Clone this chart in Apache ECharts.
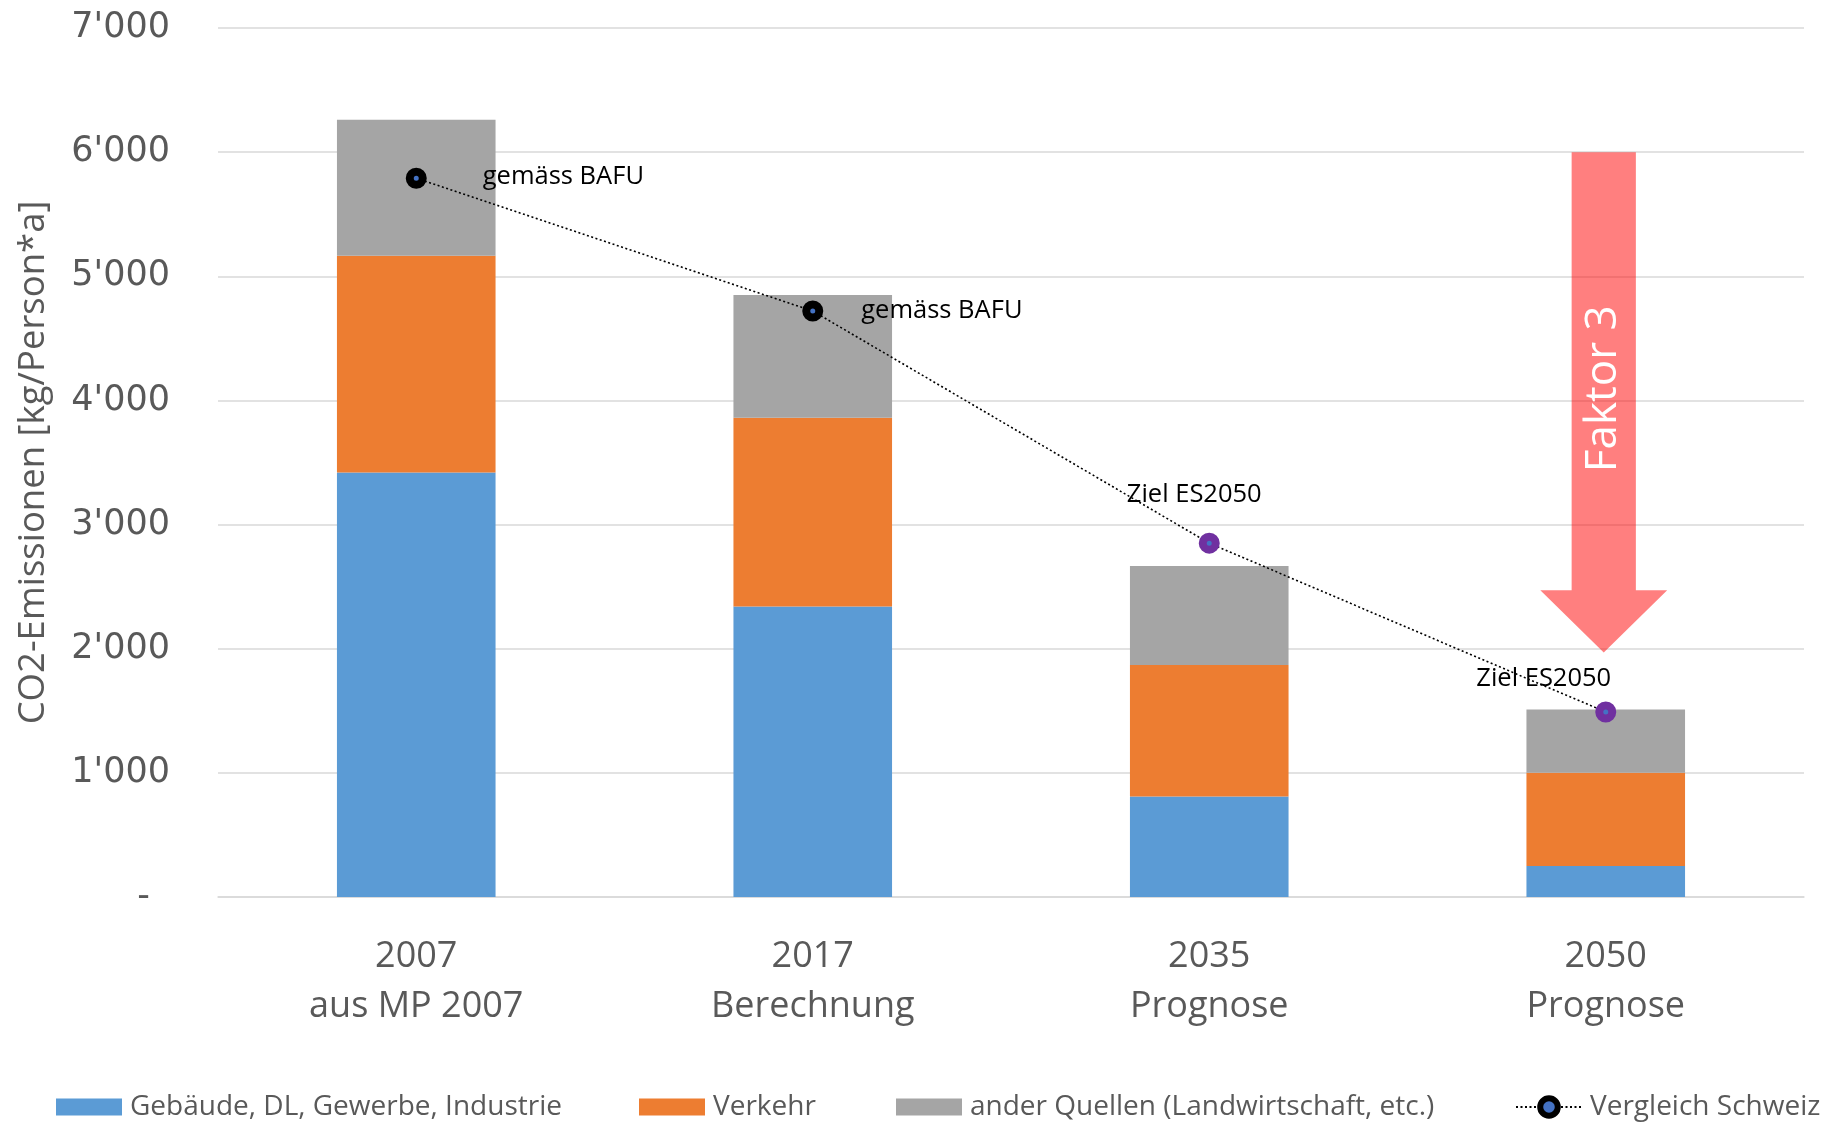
<!DOCTYPE html>
<html>
<head>
<meta charset="utf-8">
<script src="https://cdn.jsdelivr.net/npm/echarts@6/dist/echarts.min.js"></script>
<style>
html,body{margin:0;padding:0;background:#fff;}
#chart{width:1823px;height:1123px;}
</style>
</head>
<body>
<div id="chart"></div>
<script>
// ---- data ----
const years = ['2007', '2017', '2035', '2050'];
const subtitles = ['aus MP 2007', 'Berechnung', 'Prognose', 'Prognose'];
const gebaeude = [3420, 2340, 810, 250];
const verkehr = [1745, 1520, 1059, 750];
const andere = [1095, 990, 797, 510];
const vergleich = [5790, 4720, 2850, 1490];
const vergleichLabels = ['gemäss BAFU', 'gemäss BAFU', 'Ziel ES2050', 'Ziel ES2050'];
const seriesNames = ['Gebäude, DL, Gewerbe, Industrie', 'Verkehr', 'ander Quellen (Landwirtschaft, etc.)', 'Vergleich Schweiz'];
const yTicks = [0, 1000, 2000, 3000, 4000, 5000, 6000, 7000];
// arrow "Faktor 3": category index, top value, head base value, tip value
const arrow = [[3, 6000, 2470, 1970]];
const arrowText = 'Faktor 3';

// ---- chart ----
const categories = years.map((y, i) => y + '\n' + subtitles[i]);
const gray = '#595959';
const labelFont = 'Open Sans';

const pointStyles = [
  { border: '#000000', label: { position: 'right', offset: [51, -1] } },
  { border: '#000000', label: { position: 'right', offset: [33, 0] } },
  { border: '#7030A0', label: { position: 'top', offset: [-15, -20] } },
  { border: '#7030A0', label: { position: 'top', offset: [-62, -5] } }
];
const lineData = vergleich.map((v, i) => ({
  value: v,
  itemStyle: { borderColor: pointStyles[i].border },
  label: Object.assign({ show: true, formatter: vergleichLabels[i] }, pointStyles[i].label)
}));

const chart = echarts.init(document.getElementById('chart'), null, { renderer: 'canvas' });

const legendPos = [51, 634, 891, 1510];
const legends = seriesNames.map((n, i) => ({
  data: i < 3 ? [{ name: n, icon: 'rect' }] : [{ name: n, itemStyle: { borderWidth: 6, borderColor: '#000000' } }],
  left: legendPos[i],
  top: 1088,
  itemWidth: 66,
  itemHeight: i < 3 ? 17 : 22,
  itemGap: 0,
  textStyle: { fontFamily: labelFont, fontSize: 28, color: gray, padding: [0, 0, 0, 3] },
  selectedMode: false
}));

chart.setOption({
  animation: false,
  backgroundColor: '#ffffff',
  grid: { left: 218, right: 19, top: 28, bottom: 226 },
  legend: legends,
  xAxis: {
    type: 'category',
    data: categories,
    axisLine: { lineStyle: { color: '#D9D9D9', width: 1.5 } },
    axisTick: { show: false },
    axisLabel: {
      fontFamily: labelFont, fontSize: 36, color: gray, lineHeight: 50, margin: 35
    }
  },
  yAxis: {
    type: 'value',
    min: 0, max: 7000, interval: 1000,
    name: 'CO2-Emissionen [kg/Person*a]',
    nameLocation: 'middle',
    nameGap: 166,
    nameTextStyle: { fontFamily: labelFont, fontSize: 36.5, color: gray },
    axisLine: { show: false },
    axisTick: { show: false },
    splitLine: { lineStyle: { color: '#D9D9D9', width: 1.5 } },
    axisLabel: {
      margin: 48,
      fontFamily: 'DejaVu Sans', fontSize: 35, color: gray,
      formatter: function (v) {
        if (v === 0) return '{z|-}';
        return String(v).replace(/\B(?=(\d{3})+(?!\d))/g, "'");
      },
      rich: { z: { fontFamily: 'DejaVu Sans', fontSize: 35, color: gray, padding: [0, 20, 0, 0] } }
    }
  },
  series: [
    { name: seriesNames[0], type: 'bar', stack: 's', data: gebaeude, barWidth: '40%', itemStyle: { color: '#5B9BD5' } },
    { name: seriesNames[1], type: 'bar', stack: 's', data: verkehr, itemStyle: { color: '#ED7D31' } },
    { name: seriesNames[2], type: 'bar', stack: 's', data: andere, itemStyle: { color: '#A5A5A5' } },
    {
      name: seriesNames[3], type: 'line', data: lineData, z: 5,
      symbol: 'circle', symbolSize: 13,
      itemStyle: { color: '#4472C4', borderColor: '#000000', borderWidth: 8 },
      lineStyle: { color: '#000000', width: 1.6, type: [2, 2.5] },
      label: { color: '#000000', fontFamily: labelFont, fontSize: 25.5 }
    },
    {
      name: 'arrow', type: 'custom', z: 6, silent: true,
      data: arrow,
      encode: { x: 0, y: 1 },
      renderItem: function (params, api) {
        const cx = api.coord([api.value(0), api.value(1)]);
        const base = api.coord([api.value(0), api.value(2)]);
        const tip = api.coord([api.value(0), api.value(3)]);
        const band = api.size([1, 0])[0];
        const sh = band * 0.081, hh = band * 0.16;
        const x = cx[0] - 2;
        return {
          type: 'group',
          children: [
            {
              type: 'polygon',
              shape: { points: [
                [x - sh, cx[1]], [x + sh, cx[1]], [x + sh, base[1]], [x + hh, base[1]],
                [x, tip[1]], [x - hh, base[1]], [x - sh, base[1]]
              ] },
              style: { fill: 'rgba(255,0,0,0.5)' }
            },
            {
              type: 'text',
              x: x, y: cx[1] + (base[1] - cx[1]) * 0.54,
              rotation: Math.PI / 2,
              style: { text: arrowText, fill: '#ffffff', font: '44px "Open Sans"', align: 'center', verticalAlign: 'middle' }
            }
          ]
        };
      }
    }
  ]
});
</script>
</body>
</html>
